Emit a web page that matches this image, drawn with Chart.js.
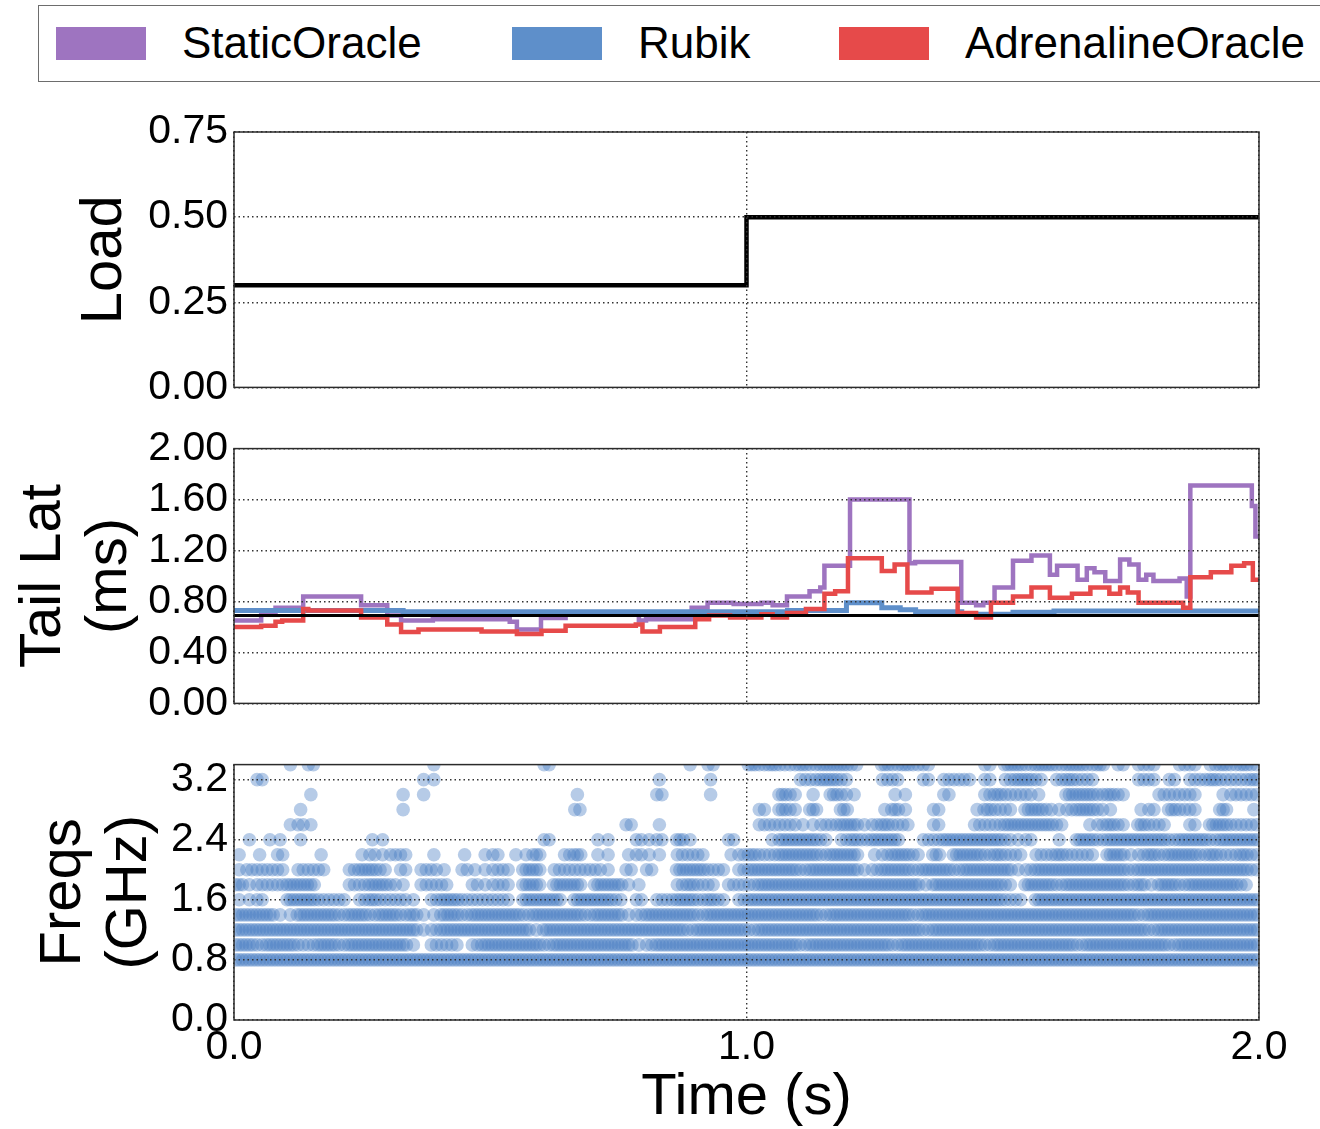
<!DOCTYPE html>
<html>
<head>
<meta charset="utf-8">
<title>Load, tail latency and frequencies over time</title>
<script src="https://cdn.jsdelivr.net/npm/chart.js@4.4.1/dist/chart.umd.min.js"></script>
<style>
  html, body { margin: 0; padding: 0; background: #fff; overflow: hidden; }
  body { position: relative; width: 1320px; height: 1129px; font-family: "Liberation Sans", Arial, Helvetica, sans-serif; }
  .panel { position: absolute; left: 0; }
  #legend { position: absolute; left: 38px; top: 5px; width: 1400px; height: 77px; border: 1.5px solid #6d6d6d; box-sizing: border-box; }
  .item { position: absolute; top: 0; height: 74px; display: flex; align-items: center; font-size: 44px; color: #000; white-space: nowrap; }
  .patch { width: 90px; height: 33px; margin-right: 36px; }
</style>
</head>
<body>
<div id="legend"></div>
<canvas class="panel" id="loadChart" width="1320" height="318" style="top:100px"></canvas>
<canvas class="panel" id="latChart" width="1320" height="316" style="top:418px"></canvas>
<canvas class="panel" id="freqChart" width="1320" height="395" style="top:734px"></canvas>
<script>
const FONT = "'Liberation Sans', Arial, Helvetica, sans-serif";

const seriesNames = ["StaticOracle", "Rubik", "AdrenalineOracle"];
const seriesColors = ["#9e74c0", "#5e8fca", "#e64a4a"];

// shared time axis (seconds)
const timeTicks = [0, 1, 2];

// offered load, each value holds until the next time
const loadT = [0, 1, 2];
const loadV = [0.30, 0.50, 0.50];
const loadTicks = [0, 0.25, 0.5, 0.75];

// tail latency (ms), step series
const latTicks = [0, 0.4, 0.8, 1.2, 1.6, 2.0];
const qosT = [0, 2];
const qosV = [0.69, 0.69];

const staticT = [0, 0.053, 0.081, 0.135, 0.248, 0.299, 0.326, 0.388, 0.538, 0.552,
  0.599, 0.647, 0.790, 0.804, 0.893, 0.924, 0.975, 1.029, 1.051, 1.079,
  1.123, 1.144, 1.152, 1.202, 1.318, 1.329, 1.419, 1.448, 1.462, 1.484,
  1.520, 1.556, 1.592, 1.606, 1.646, 1.664, 1.679, 1.700, 1.729, 1.747,
  1.765, 1.780, 1.794, 1.845, 1.859, 1.866, 1.986, 1.993, 2.0];
const staticV = [0.65, 0.70, 0.75, 0.84, 0.77, 0.69, 0.65, 0.66, 0.64, 0.58,
  0.67, 0.71, 0.65, 0.66, 0.75, 0.79, 0.78, 0.79, 0.77, 0.84,
  0.88, 0.91, 1.08, 1.60, 1.10, 1.11, 0.79, 0.77, 0.79, 0.91,
  1.12, 1.16, 1.01, 1.08, 0.97, 1.06, 1.03, 0.96, 1.13, 1.09,
  0.97, 1.01, 0.96, 0.98, 0.84, 1.71, 1.55, 1.31, 1.31];

const rubikT = [0, 0.33, 1.08, 1.195, 1.264, 1.30, 1.33, 1.42, 1.52, 1.60, 2.0];
const rubikV = [0.73, 0.72, 0.73, 0.79, 0.75, 0.735, 0.72, 0.70, 0.715, 0.725, 0.725];

const adrenT = [0, 0.053, 0.081, 0.094, 0.135, 0.145, 0.248, 0.299, 0.326, 0.360,
  0.483, 0.552, 0.600, 0.647, 0.784, 0.797, 0.831, 0.900, 0.927, 0.968,
  1.029, 1.051, 1.079, 1.116, 1.152, 1.173, 1.198, 1.264, 1.289, 1.314,
  1.361, 1.412, 1.448, 1.477, 1.520, 1.556, 1.592, 1.635, 1.671, 1.708,
  1.729, 1.744, 1.765, 1.852, 1.866, 1.906, 1.946, 1.971, 1.988, 2.0];
const adrenV = [0.60, 0.61, 0.64, 0.65, 0.74, 0.73, 0.675, 0.62, 0.56, 0.58,
  0.565, 0.545, 0.57, 0.61, 0.62, 0.565, 0.60, 0.66, 0.69, 0.675,
  0.70, 0.675, 0.71, 0.74, 0.86, 0.88, 1.14, 1.04, 1.09, 0.87,
  0.90, 0.71, 0.675, 0.79, 0.84, 0.91, 0.83, 0.86, 0.91, 0.86,
  0.91, 0.87, 0.79, 0.75, 0.99, 1.03, 1.08, 1.10, 0.97, 0.97];

// per-core frequency samples (GHz), one string per DVFS step.
// each character is a 20 ms bin holding 0..3 samples
const freqBin = 0.02;
const freqTicks = [0, 0.8, 1.6, 2.4, 3.2];
const freqLevels = [0.8, 1.0, 1.2, 1.4, 1.6, 1.8, 2.0, 2.2, 2.4, 2.6, 2.8, 3.0, 3.2, 3.4];
const freqRows = [
  "33333 33333 33333 33333 33333 33333 33333 33333 33333 33333 33333 33333 33333 33333 33333 33333 33333 33333 33333 33333",
  "33233 32233 23333 33102 22023 33333 23333 33331 23333 33333 33333 23333 33332 33333 33323 33333 33233 33333 32333 33333",
  "33333 33333 33333 33312 33333 33331 33333 33333 33332 33333 23333 33333 33333 33233 33333 33333 33333 33332 33333 33333",
  "33331 13333 23323 32311 33233 33323 33332 33312 33333 23333 33333 33233 33333 32333 33333 33333 33333 33323 33333 33333",
  "11200 33322 20232 22102 33222 22033 33033 33202 02233 23202 33333 33333 33333 33333 33333 22033 33333 33333 33333 33333",
  "31222 33300 02233 21022 20021 22033 03330 33311 00023 22022 23333 33333 33333 33133 33333 20333 23333 33231 33233 33320",
  "12222 02220 02332 02022 10211 22033 02222 21020 20033 32202 33333 23333 31233 32333 23333 31233 33333 33233 33333 33332",
  "10102 00010 00121 22001 00101 20113 00230 11012 11022 20012 32233 33233 30123 32030 33323 22022 32220 33123 23332 32232",
  "01011 01000 00011 00000 00000 00000 20000 11002 12031 00020 00133 33202 32333 00223 33333 21200 10332 33333 32333 23333",
  "00000 12100 00000 00000 00000 00000 00000 00020 01000 00000 02222 11223 31232 20020 00222 33333 20012 32032 20020 33222",
  "00000 01000 00000 01000 00000 00000 00020 00000 00000 00000 02032 03003 00013 10020 00132 20332 12332 10012 03220 03001",
  "00000 00100 00000 01010 00000 00000 00010 00000 02000 01000 00032 01032 10001 10002 00023 22210 03332 32000 22220 01222",
  "00200 00000 00000 00011 00000 00000 00000 00000 01000 01000 00000 22332 00022 00202 22020 23320 23220 00022 02022 32223",
  "00000 10200 00000 00001 00000 00000 20000 00000 00001 02000 32322 32333 20032 32200 00020 33233 23323 02022 00220 23232"
];

// legend
const legend = document.getElementById("legend");
const legendLeft = [17, 473, 800];
seriesNames.forEach((name, i) => {
  const item = document.createElement("div");
  item.className = "item";
  item.style.left = legendLeft[i] + "px";
  item.innerHTML = "<span class='patch' style='background:" + seriesColors[i] + "'></span>" + name;
  legend.appendChild(item);
});

function zip(ts, vs) {
  return ts.map((t, i) => ({ x: t, y: vs[i] }));
}

// plot frame drawn on top of everything
const framePlugin = {
  id: "frame",
  afterDraw(chart) {
    const { ctx, chartArea: a } = chart;
    ctx.save();
    ctx.strokeStyle = "#2b2b2b";
    ctx.lineWidth = 1.5;
    ctx.strokeRect(a.left, a.top, a.right - a.left, a.bottom - a.top);
    ctx.restore();
  }
};

const gridStyle = { color: "#333", lineWidth: 1.4, drawTicks: false, z: 1, borderDash: [1.5, 3] };
const borderStyle = { display: false, dash: [1.5, 3] };

function xScale(withLabels) {
  return {
    type: "linear", min: 0, max: 2,
    afterBuildTicks: s => { s.ticks = timeTicks.map(v => ({ value: v })); },
    afterFit: s => { s.height = withLabels ? 109 : 0; },
    grid: gridStyle,
    border: borderStyle,
    ticks: {
      display: withLabels, padding: 3, color: "#000", maxRotation: 0, autoSkip: false,
      font: { family: FONT, size: 41 },
      callback: v => v.toFixed(1)
    },
    title: {
      display: withLabels, text: "Time (s)", color: "#000",
      font: { family: FONT, size: 58, lineHeight: 1.0 },
      padding: { top: 0, bottom: 2 }
    }
  };
}

function yScale(min, max, tickValues, digits, titleText, titleOffset) {
  return {
    type: "linear", min: min, max: max,
    afterBuildTicks: s => { s.ticks = tickValues.map(v => ({ value: v })); },
    afterFit: s => { s.width = 234; },
    grid: gridStyle,
    border: borderStyle,
    ticks: {
      padding: 6, color: "#000", autoSkip: false,
      font: { family: FONT, size: 41 },
      callback: v => v.toFixed(digits)
    },
    title: {
      display: true, text: titleText, color: "#000",
      font: { family: FONT, size: 58, lineHeight: 66 / 58 },
      padding: { top: titleOffset, bottom: 0 }
    }
  };
}

function baseOptions(pad, x, y) {
  return {
    responsive: false,
    animation: false,
    devicePixelRatio: 1,
    layout: { padding: pad },
    plugins: { legend: { display: false }, tooltip: { enabled: false } },
    elements: { point: { radius: 0 } },
    scales: { x: x, y: y }
  };
}

function stepLine(ts, vs, color, width) {
  return {
    type: "line", data: zip(ts, vs), stepped: true,
    borderColor: color, borderWidth: width, pointRadius: 0, fill: false, clip: 0
  };
}

// top panel: load
new Chart(document.getElementById("loadChart"), {
  type: "line",
  data: { datasets: [stepLine(loadT, loadV, "#000", 4.5)] },
  options: baseOptions({ left: 0, right: 61, top: 32, bottom: 30 },
    xScale(false), yScale(0, 0.75, loadTicks, 2, "Load", 72)),
  plugins: [framePlugin]
});

// middle panel: tail latency (first dataset is drawn on top)
new Chart(document.getElementById("latChart"), {
  type: "line",
  data: {
    datasets: [
      stepLine(qosT, qosV, "#000", 3),
      stepLine(adrenT, adrenV, seriesColors[2], 4.5),
      stepLine(rubikT, rubikV, seriesColors[1], 5),
      stepLine(staticT, staticV, seriesColors[0], 4.5)
    ]
  },
  options: baseOptions({ left: 0, right: 61, top: 30, bottom: 30 },
    xScale(false), yScale(0, 2, latTicks, 2, ["Tail Lat", "(ms)"], 11)),
  plugins: [framePlugin]
});

// bottom panel: frequency samples, spread evenly inside their bin
const freqPoints = [];
freqRows.forEach((row, r) => {
  const bins = row.replace(/ /g, "");
  for (let i = 0; i < bins.length; i++) {
    const n = Number(bins[i]);
    for (let k = 0; k < n; k++) {
      freqPoints.push({ x: (i + (k + 0.5) / n) * freqBin, y: freqLevels[r] });
    }
  }
});

new Chart(document.getElementById("freqChart"), {
  type: "scatter",
  data: {
    datasets: [{
      data: freqPoints,
      backgroundColor: "rgba(72,124,196,0.4)",
      borderWidth: 0,
      pointRadius: 6.8,
      pointHoverRadius: 6.8,
      clip: 0
    }]
  },
  options: baseOptions({ left: 0, right: 61, top: 30, bottom: 0 },
    xScale(true), yScale(0, 3.4, freqTicks, 1, ["Freqs", "(GHz)"], 31)),
  plugins: [framePlugin]
});
</script>
</body>
</html>
